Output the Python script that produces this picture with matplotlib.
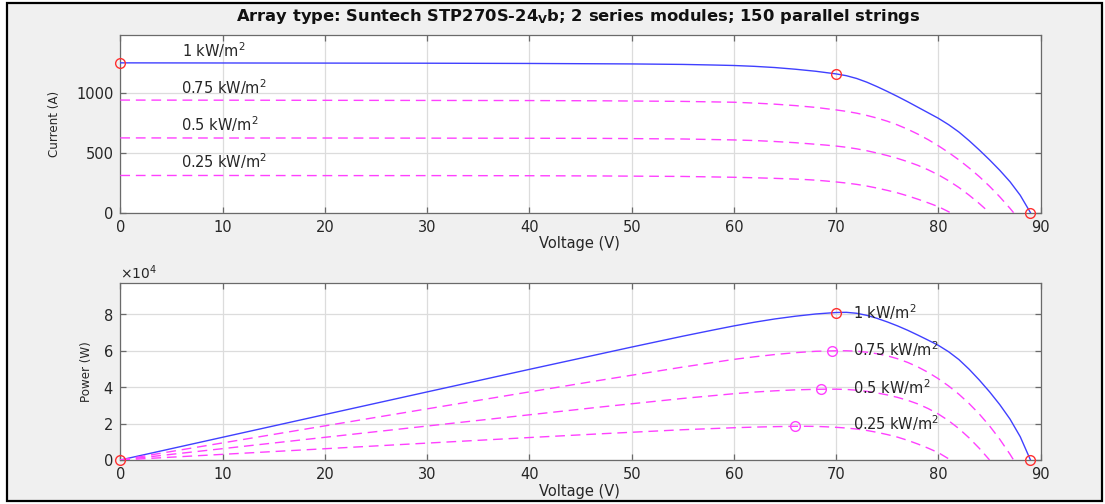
import matplotlib
matplotlib.use("Agg")
import matplotlib.pyplot as plt
from matplotlib.patches import Rectangle
from matplotlib.ticker import ScalarFormatter

plt.rcParams['font.family'] = ['DejaVu Sans']
plt.rcParams['mathtext.fontset'] = 'dejavusans'

# ---------------- data ----------------
irr_labels = ['1 kW/m$^2$', '0.75 kW/m$^2$', '0.5 kW/m$^2$', '0.25 kW/m$^2$']

v_1000 = [0, 10, 20, 30, 40, 50, 55, 58, 60, 62, 64, 66, 68, 70, 71, 72, 73, 74, 75, 76, 77, 78,
          79, 80, 81, 82, 83, 84, 85, 86, 87, 88, 89]
i_1000 = [1248, 1247, 1246, 1245, 1243, 1239, 1235, 1230, 1226, 1219, 1209, 1195, 1178, 1156,
          1141, 1118, 1087, 1050, 1010, 968, 924, 878, 832, 786, 733, 672, 600, 522, 440, 353,
          258, 145, 0]
p_1000 = [0, 12470, 24920, 37350, 49720, 61950, 67925, 71340, 73560, 75578, 77376, 78870, 80104,
          80920, 81011, 80496, 79351, 77700, 75750, 73568, 71148, 68484, 65728, 62880, 59373,
          55104, 49800, 43848, 37400, 30358, 22446, 12760, 0]

v_750 = [0, 10, 20, 30, 40, 47, 55, 60, 62, 64, 66, 68, 70, 71, 72, 73, 74, 75, 76, 77, 78, 79,
         80, 81, 82, 83, 84, 85, 86, 87, 87.35]
i_750 = [938, 937, 936, 935, 934, 932, 927, 920, 913, 904, 892, 877, 856, 844, 829, 810, 788,
         762, 731, 695, 654, 608, 557, 501, 440, 373, 300, 220, 132, 36, 0]
p_750 = [0, 9370, 18720, 28050, 37360, 43804, 50985, 55200, 56606, 57856, 58872, 59636, 59920,
         59924, 59688, 59130, 58312, 57150, 55556, 53515, 51012, 48032, 44560, 40581, 36080,
         30959, 25200, 18700, 11352, 3132, 0]

v_500 = [0, 10, 20, 30, 40, 47, 55, 60, 62, 64, 66, 68, 69, 70, 71, 72, 73, 74, 75, 76, 77, 78,
         79, 80, 81, 82, 83, 84, 85]
i_500 = [623, 622, 622, 621, 620, 619, 614, 606, 601, 593, 583, 570, 563, 555, 545, 532, 516,
         497, 476, 452, 425, 394, 357, 315, 266, 210, 146, 76, 0]
p_500 = [0, 6220, 12440, 18630, 24800, 29093, 33770, 36360, 37262, 37952, 38478, 38760, 38847,
         38850, 38695, 38304, 37668, 36778, 35700, 34352, 32725, 30732, 28203, 25200, 21546,
         17220, 12118, 6384, 0]

v_250 = [0, 10, 20, 30, 40, 47, 55, 60, 62, 64, 66, 67, 68, 69, 70, 71, 72, 73, 74, 75, 76, 77,
         78, 79, 80, 81, 81.15]
i_250 = [310, 310, 309, 309, 308, 306, 302, 295, 291, 286, 280, 276, 271, 264, 256, 247, 236,
         222, 205, 186, 165, 140, 112, 82, 50, 8, 0]
p_250 = [0, 3100, 6180, 9270, 12320, 14382, 16610, 17700, 18042, 18304, 18480, 18492, 18428,
         18216, 17920, 17537, 16992, 16206, 15170, 13950, 12540, 10780, 8736, 6478, 4000, 648, 0]

# key points of the 1 kW/m2 curve (short circuit, maximum power, open circuit)
key_v_1000 = [0, 70, 89]
key_i_1000 = [1248, 1156, 0]
key_p_1000 = [0, 80900, 0]

# maximum power points of the reduced irradiance curves
mpp_v_dashed = [69.6, 68.5, 66.0]
mpp_p_dashed = [59800, 38950, 18550]

# label anchor positions (data units)
lab_i_v = [6.0, 5.9, 5.9, 5.9]
lab_i_y = [1300, 990, 684, 373]
lab_p_v = [71.6, 71.6, 71.6, 71.6]
lab_p_y = [77400, 57000, 36300, 16200]

title = 'Array type: Suntech STP270S-24$_\\mathbf{V}$b; 2 series modules; 150 parallel strings'

# ---------------- figure ----------------
W, H = 1105, 504
fig = plt.figure(figsize=(W / 100, H / 100), dpi=100, facecolor='white')
frame = Rectangle((7 / W, 3 / H), 1095 / W, 498 / H, transform=fig.transFigure,
                  facecolor='#f0f0f0', edgecolor='black', linewidth=1.6, zorder=-10)
fig.add_artist(frame)

ax1 = fig.add_axes([120.3 / W, (H - 212.7) / H, 920.4 / W, 177.7 / H])
ax2 = fig.add_axes([120.3 / W, (H - 460) / H, 920.4 / W, 177 / H])

blue = '#4040ff'
mag = '#ff40ff'
red = '#ff3030'
dash = (7, 4.2)

# I-V
ax1.plot(v_1000, i_1000, color=blue, lw=1.0, zorder=3)
for v, i in [(v_750, i_750), (v_500, i_500), (v_250, i_250)]:
    ax1.plot(v, i, color=mag, lw=1.0, ls=(0, dash), zorder=3)
ax1.plot(key_v_1000, key_i_1000, ls='none', marker='o', ms=7, mfc='none', mec=red, mew=1.0,
         clip_on=False, zorder=4)

# P-V
ax2.plot(v_1000, p_1000, color=blue, lw=1.0, zorder=3)
for v, p in [(v_750, p_750), (v_500, p_500), (v_250, p_250)]:
    ax2.plot(v, p, color=mag, lw=1.0, ls=(0, dash), zorder=3)
ax2.plot(key_v_1000, key_p_1000, ls='none', marker='o', ms=7, mfc='none', mec=red, mew=1.0,
         clip_on=False, zorder=4)
ax2.plot(mpp_v_dashed, mpp_p_dashed, ls='none', marker='o', ms=7, mfc='none', mec=mag, mew=1.0,
         clip_on=False, zorder=4)

txtcol = '#262626'
for k in range(4):
    ax1.text(lab_i_v[k], lab_i_y[k], irr_labels[k], fontsize=10.5, color=txtcol, va='baseline',
             ha='left', zorder=5)
    ax2.text(lab_p_v[k], lab_p_y[k], irr_labels[k], fontsize=10.5, color=txtcol, va='baseline',
             ha='left', zorder=5)

ax1.set_xlim(0, 90)
ax1.set_ylim(0, 1480)
ax1.set_xticks(range(0, 91, 10))
ax1.set_yticks([0, 500, 1000])
ax2.set_xlim(0, 90)
ax2.set_ylim(0, 97100)
ax2.set_xticks(range(0, 91, 10))
ax2.set_yticks([0, 20000, 40000, 60000, 80000])
fmt = ScalarFormatter(useMathText=True)
fmt.set_powerlimits((0, 0))
ax2.yaxis.set_major_formatter(fmt)

for ax in (ax1, ax2):
    ax.set_facecolor('white')
    ax.grid(True, color='#dcdcdc', lw=0.9)
    ax.set_axisbelow(True)
    for s in ax.spines.values():
        s.set_color('#6a6a6a')
        s.set_linewidth(0.9)
    ax.tick_params(direction='in', length=4, width=0.9, color='#6a6a6a', labelcolor=txtcol,
                   labelsize=10.5, top=True, right=True, pad=5)

ax2.yaxis.get_offset_text().set_fontsize(10)
ax2.yaxis.get_offset_text().set_color(txtcol)

ax1.set_xlabel('Voltage (V)', fontsize=10.5, color=txtcol)
ax1.set_ylabel('Current (A)', fontsize=8.6, color=txtcol)
ax2.set_xlabel('Voltage (V)', fontsize=10.5, color=txtcol)
ax2.set_ylabel('Power (W)', fontsize=8.6, color=txtcol)
ax1.xaxis.set_label_coords(0.4984, -0.132)
ax2.xaxis.set_label_coords(0.4984, -0.133)
ax1.yaxis.set_label_coords(-0.064, 0.5)
ax2.yaxis.set_label_coords(-0.030, 0.5)

fig.text(578.5 / W, 1 - 17 / H, title, ha='center', va='center', fontsize=11.8,
         fontweight='bold', color='#111111')

fig.savefig('out.png', dpi=100, facecolor=fig.get_facecolor())
